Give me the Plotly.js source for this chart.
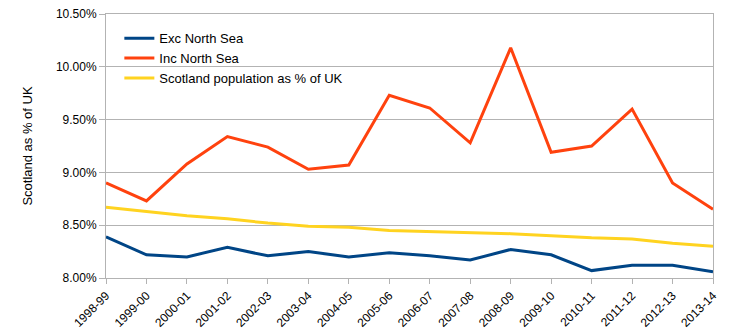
<!DOCTYPE html>
<html><head><meta charset="utf-8">
<script src="https://cdn.plot.ly/plotly-3.0.1.min.js"></script>
<style>html,body{margin:0;padding:0;background:#fff}#c{width:731px;height:336px}</style>
</head><body><div id="c"></div>
<script>
const years = ["1998-99","1999-00","2000-01","2001-02","2002-03","2003-04","2004-05","2005-06","2006-07","2007-08","2008-09","2009-10","2010-11","2011-12","2012-13","2013-14"];
const excNorthSea = [8.39,8.22,8.20,8.29,8.21,8.25,8.20,8.24,8.21,8.17,8.27,8.22,8.07,8.12,8.12,8.06];
const incNorthSea = [8.90,8.73,9.08,9.34,9.24,9.03,9.07,9.73,9.61,9.28,10.18,9.19,9.25,9.60,8.90,8.65];
const population = [8.67,8.63,8.59,8.56,8.52,8.49,8.48,8.45,8.44,8.43,8.42,8.40,8.38,8.37,8.33,8.30];

const traces = [
  {x: years, y: excNorthSea, name: "Exc North Sea", mode: "lines", line: {color: "#004586", width: 3}},
  {x: years, y: incNorthSea, name: "Inc North Sea", mode: "lines", line: {color: "#ff420e", width: 3}},
  {x: years, y: population, name: "Scotland population as % of UK", mode: "lines", line: {color: "#ffd320", width: 3}}
];
const layout = {
  width: 731, height: 336,
  margin: {l: 106, r: 18, t: 14, b: 58, pad: 0},
  paper_bgcolor: "#fff", plot_bgcolor: "#fff",
  font: {family: "Liberation Sans, Arial, sans-serif", size: 12, color: "#000"},
  showlegend: true,
  legend: {x: 0.022, y: 0.965, xanchor: "left", yanchor: "top", bgcolor: "rgba(0,0,0,0)", itemwidth: 30, font: {size: 13}, tracegroupgap: 0},
  xaxis: {type: "category", range: [0, 15], showgrid: false, showline: true, linecolor: "#b3b3b3", mirror: true,
          ticks: "outside", ticklen: 5, tickcolor: "#b3b3b3", tickangle: -45, tickfont: {size: 12}, zeroline: false},
  yaxis: {range: [8, 10.5], dtick: 0.5, tick0: 8, tickformat: ".2f", ticksuffix: "%", showgrid: true, gridcolor: "#b3b3b3",
          showline: true, linecolor: "#b3b3b3", mirror: true, ticks: "outside", ticklen: 6, tickcolor: "#b3b3b3",
          zeroline: false, tickfont: {size: 12},
          title: {text: "Scotland as % of UK", font: {size: 13}, standoff: 20}}
};
Plotly.newPlot("c", traces, layout, {displayModeBar: false, staticPlot: true});
</script></body></html>
